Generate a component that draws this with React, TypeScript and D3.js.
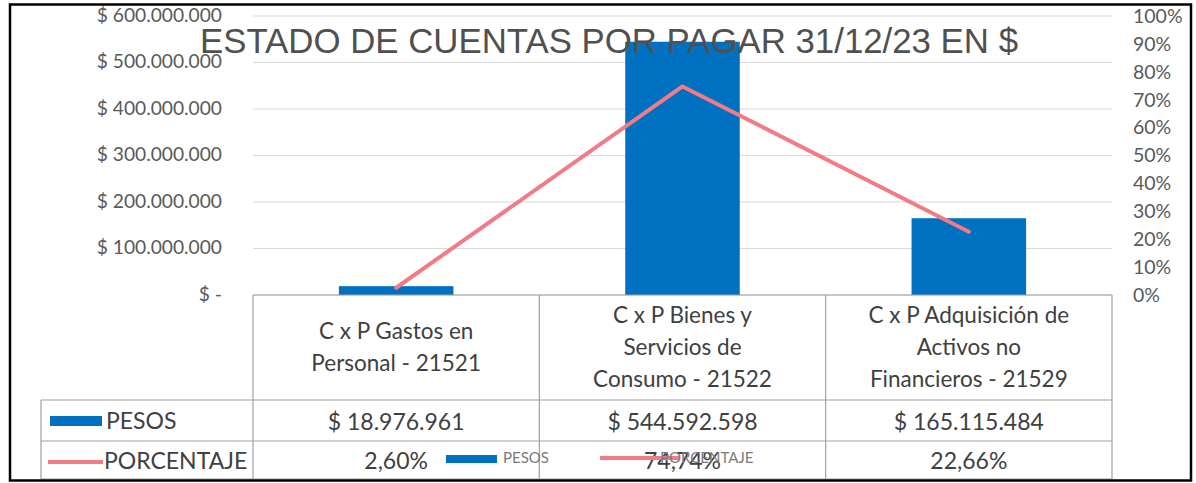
import React from "react";
import * as d3 from "d3";

const title = "ESTADO DE CUENTAS POR PAGAR 31/12/23 EN $";
const categories = [
  "C x P Gastos en Personal - 21521",
  "C x P Bienes y Servicios de Consumo - 21522",
  "C x P Adquisición de Activos no Financieros - 21529",
];
const categoryLines = [
  ["C x P Gastos en", "Personal - 21521"],
  ["C x P Bienes y", "Servicios de", "Consumo - 21522"],
  ["C x P Adquisición de", "Activos no", "Financieros - 21529"],
];
const pesos = [18976961, 544592598, 165115484];
const porcentaje = [0.026, 0.7474, 0.2266];
const leftTicks = [0, 100000000, 200000000, 300000000, 400000000, 500000000, 600000000];
const rightTicks = [0, 0.1, 0.2, 0.3, 0.4, 0.5, 0.6, 0.7, 0.8, 0.9, 1];
const seriesNames = ["PESOS", "PORCENTAJE"];

const W = 1196;
const H = 483;
const BLUE = "#0070C0";
const PINK = "#F27C85";
const GRID = "#D9D9D9";
const TABLE = "#A0A0A0";
const TXT = "#404040";
const AXT = "#595959";

const locale = d3.formatLocale({ decimal: ",", thousands: ".", grouping: [3], currency: ["$ ", ""] });
const fmtMoney = (v: number) => (v === 0 ? "$ -" : "$ " + locale.format(",.0f")(v));
const fmtPct0 = locale.format(".0%");
const fmtPct2 = locale.format(".2%");

export default function App() {
  const plotL = 253;
  const plotR = 1112;
  const yTop = 16;
  const yBot = 295;
  const x = d3.scaleBand<string>().domain(categories).range([plotL, plotR]).paddingInner(0.6).paddingOuter(0.3);
  const step = (plotR - plotL) / categories.length;
  const yL = d3.scaleLinear().domain([0, 600000000]).range([yBot, yTop]);
  const yR = d3.scaleLinear().domain([0, 1]).range([yBot, yTop]);
  const cx = (c: string) => (x(c) as number) + x.bandwidth() / 2;

  const line = d3
    .line<number>()
    .x((_, i) => cx(categories[i]))
    .y((d) => yR(d));

  const rowTop = yBot;
  const row1 = 400;
  const row2 = 441;
  const rowBot = 479;
  const tableL = 41;
  const font = "Lato, 'Open Sans', sans-serif";

  return (
    <svg width={W} height={H} style={{ position: "absolute", left: 0, top: 0, background: "#fff" }} fontFamily={font}>
      <rect x={0} y={0} width={W} height={H} fill="#fff" />
      {/* gridlines */}
      {leftTicks.map((t) => (
        <line key={"g" + t} x1={plotL} x2={plotR} y1={yL(t)} y2={yL(t)} stroke={GRID} strokeWidth={1.2} />
      ))}
      {/* left axis labels */}
      {leftTicks.map((t) => (
        <text key={"l" + t} x={222} y={yL(t) - 1} dy="0.35em" textAnchor="end" fontSize={19.2} fill={AXT}>
          {fmtMoney(t)}
        </text>
      ))}
      {/* right axis labels */}
      {rightTicks.map((t) => (
        <text key={"r" + t} x={1133} y={yR(t)} dy="0.35em" textAnchor="start" fontSize={19.5} fill={AXT}>
          {fmtPct0(t)}
        </text>
      ))}
      {/* bars */}
      {categories.map((c, i) => (
        <rect key={"b" + i} x={x(c)} y={yL(pesos[i])} width={x.bandwidth()} height={yBot - yL(pesos[i])} fill={BLUE} />
      ))}
      {/* title */}
      <text x={609} y={53} textAnchor="middle" fontFamily="'Liberation Sans', Arial, sans-serif" fontSize={34.8} fill="#505050">
        {title}
      </text>
      {/* line */}
      <path d={line(porcentaje) || ""} fill="none" stroke={PINK} strokeWidth={4} strokeLinejoin="round" strokeLinecap="round" />

      {/* data table */}
      <g stroke={TABLE} strokeWidth={1.2}>
        <line x1={plotL} x2={plotR} y1={rowTop} y2={rowTop} />
        <line x1={tableL} x2={plotR} y1={row1} y2={row1} />
        <line x1={tableL} x2={plotR} y1={row2} y2={row2} />
        <line x1={tableL} x2={plotR} y1={rowBot} y2={rowBot} />
        <line x1={tableL} x2={tableL} y1={row1} y2={rowBot} />
        {d3.range(categories.length + 1).map((i) => (
          <line key={"v" + i} x1={plotL + i * step} x2={plotL + i * step} y1={rowTop} y2={rowBot} />
        ))}
      </g>
      {categories.map((c, i) => {
        const lines = categoryLines[i];
        const mid = (rowTop + row1) / 2;
        const lh = 32;
        return (
          <text key={"c" + i} textAnchor="middle" fontSize={22.5} fill={TXT}>
            {lines.map((ln, j) => (
              <tspan key={j} x={cx(c)} y={mid + (j - (lines.length - 1) / 2) * lh} dy="0.35em">
                {ln}
              </tspan>
            ))}
          </text>
        );
      })}
      {categories.map((c, i) => (
        <text key={"p" + i} x={cx(c)} y={(row1 + row2) / 2 + 1} dy="0.35em" textAnchor="middle" fontSize={23} fill={TXT}>
          {fmtMoney(pesos[i])}
        </text>
      ))}
      {categories.map((c, i) => (
        <text key={"q" + i} x={cx(c)} y={(row2 + rowBot) / 2 + 1} dy="0.35em" textAnchor="middle" fontSize={23} fill={TXT}>
          {fmtPct2(porcentaje[i])}
        </text>
      ))}
      {/* row keys */}
      <rect x={50} y={416} width={52} height={10} fill={BLUE} />
      <text x={106} y={421} dy="0.35em" fontSize={23} fill={TXT}>
        {seriesNames[0]}
      </text>
      <line x1={48} x2={103} y1={462} y2={462} stroke={PINK} strokeWidth={4} />
      <text x={104} y={461} dy="0.35em" fontSize={23} fill={TXT}>
        {seriesNames[1]}
      </text>

      {/* chart legend */}
      <rect x={446} y={455} width={51} height={8} fill={BLUE} />
      <text x={503} y={458} dy="0.35em" fontSize={15} fill="#7a7a7a">
        {seriesNames[0]}
      </text>
      <line x1={600} x2={680} y1={458} y2={458} stroke={PINK} strokeWidth={4} />
      <text x={660} y={458} dy="0.35em" fontSize={15} fill="#7a7a7a">
        {seriesNames[1]}
      </text>

      {/* outer border */}
      <rect x={10} y={4.5} width={1181} height={476} fill="none" stroke="#000" strokeWidth={2.5} />
    </svg>
  );
}
